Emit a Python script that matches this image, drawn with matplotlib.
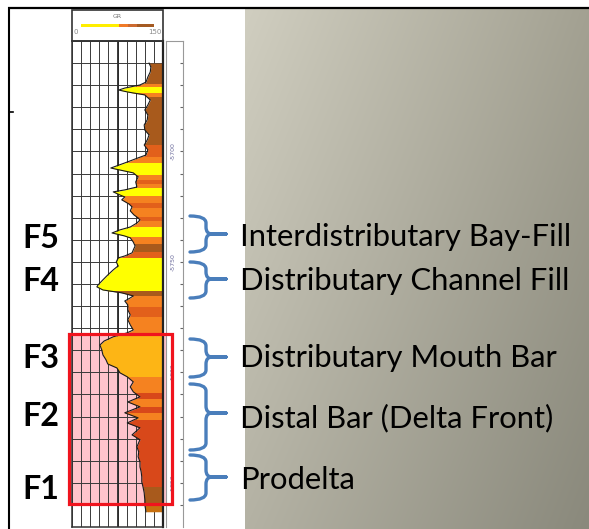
import numpy as np
import matplotlib
matplotlib.use("Agg")
import matplotlib.pyplot as plt
from matplotlib.patches import Rectangle, PathPatch
from matplotlib.path import Path

# ---------------- data ----------------
depth_ft = [
    5660.0, 5661.8, 5664.0, 5666.3, 5668.6, 5669.9, 5671.3, 5672.2, 5673.1, 5674.4,
    5676.7, 5679.0, 5681.2, 5683.5, 5685.7, 5688.0, 5690.3, 5692.5, 5694.8, 5697.1,
    5699.3, 5701.6, 5702.9, 5705.2, 5707.5, 5708.4, 5709.7, 5711.5, 5713.8, 5716.1,
    5717.4, 5718.3, 5719.7, 5720.6, 5721.9, 5723.8, 5725.1, 5726.9, 5728.7, 5730.1,
    5731.0, 5732.4, 5734.2, 5735.5, 5736.9, 5738.2, 5739.1, 5741.0, 5742.8, 5744.6,
    5745.9, 5747.3, 5748.2, 5750.0, 5751.8, 5753.6, 5755.9, 5758.1, 5760.4, 5761.3,
    5762.7, 5764.0, 5765.4, 5766.3, 5767.7, 5769.5, 5771.7, 5774.0, 5776.2, 5778.5,
    5780.8, 5782.1, 5783.9, 5785.8, 5787.6, 5789.8, 5792.1, 5794.3, 5796.2, 5798.0,
    5800.2, 5802.0, 5804.3, 5806.6, 5808.8, 5811.1, 5813.4, 5815.6, 5818.3, 5820.6,
    5822.9, 5825.1, 5828.3, 5830.5, 5833.7, 5836.0, 5838.2, 5840.5, 5842.8, 5845.0,
    5847.3, 5849.6, 5851.8, 5854.5, 5857.7, 5860.0, 5863.1,
]
gr_api = [
    127, 130, 129, 125, 122, 112, 87, 77, 92, 120,
    129, 125, 120, 125, 124, 119, 120, 127, 124, 119,
    125, 122, 109, 87, 64, 79, 101, 109, 105, 107,
    87, 68, 79, 87, 82, 94, 99, 96, 102, 109,
    112, 107, 96, 79, 66, 86, 96, 101, 104, 101,
    99, 87, 76, 73, 76, 68, 59, 51, 43, 41,
    51, 82, 101, 96, 87, 92, 92, 96, 92, 96,
    101, 91, 68, 53, 46, 49, 51, 56, 59, 74,
    79, 91, 101, 96, 101, 112, 92, 112, 87, 109,
    91, 112, 99, 112, 107, 110, 109, 112, 112, 114,
    115, 115, 117, 119, 120, 120, 122,
]

# colour bands of the GR fill (top depth of each band, colour class)
band_tops = [5660, 5669.5, 5671, 5673.5, 5675.3, 5697, 5702.5, 5705, 5710.6, 5713,
             5714.7, 5716.5, 5720, 5723.3, 5725.6, 5729.6, 5731.5, 5734, 5738.7, 5742,
             5745.5, 5748.2, 5763, 5765.4, 5770.4, 5775, 5782, 5802, 5809.3, 5812,
             5815.6, 5818.3, 5821.5, 5851.8, 5859]
band_classes = ["brown", "orange", "yellow", "orange", "brown", "dark", "orange", "yellow", "orange", "dark",
                "orange", "yellow", "orange", "dark", "orange", "dark", "orange", "yellow", "orange", "brown",
                "dark", "yellow", "brown", "orange", "dark", "orange", "gold", "orange", "red", "orange",
                "red", "orange", "red", "brown", "ochre"]
band_bottom = 5864

facies = ["F5", "F4", "F3", "F2", "F1"]
facies_names = ["Interdistributary Bay-Fill", "Distributary Channel Fill",
                "Distributary Mouth Bar", "Distal Bar (Delta Front)", "Prodelta"]

depth_labels = [5700, 5750, 5800, 5850]
depth_top, depth_base = 5650, 5870
gr_min, gr_max = 0, 150

# ---------------- styles ----------------
palette = {"yellow": "#ffff00", "gold": "#fdb515", "orange": "#f58220",
           "dark": "#e2601b", "red": "#d8481a", "brown": "#a85a1c", "ochre": "#c8700f"}

W, H = 589, 529
fig = plt.figure(figsize=(W / 100, H / 100), dpi=100)

def fr(x0, y0, x1, y1):
    return [x0 / W, 1 - y1 / H, (x1 - x0) / W, (y1 - y0) / H]

# background axes (pixel coords)
bg = fig.add_axes([0, 0, 1, 1], zorder=0)
bg.set_xlim(0, W); bg.set_ylim(H, 0); bg.axis("off")
tl = np.array([208, 206, 192]); tr = np.array([163, 161, 146])
bl = np.array([180, 178, 164]); br = np.array([138, 137, 124])
u = np.linspace(0, 1, 200)[None, :, None]
v = np.linspace(0, 1, 200)[:, None, None]
grad = (tl * (1 - u) * (1 - v) + tr * u * (1 - v) + bl * (1 - u) * v + br * u * v) / 255
bg.imshow(grad, extent=[245, W, H, 9.5], aspect="auto", interpolation="bilinear")
bg.set_xlim(0, W); bg.set_ylim(H, 0)
bg.plot([8, W], [7.5, 7.5], color="black", lw=1.6, solid_capstyle="butt")
bg.plot([9, 9], [7, H], color="black", lw=1.5, solid_capstyle="butt")
bg.plot([9, 13], [112, 112], color="black", lw=1.2)
# pink highlight behind the facies F1-F3 part of track
bg.add_patch(Rectangle((68, 333), 104, 171, facecolor="#ffc4cc", edgecolor="none"))

# header box
bg.add_patch(Rectangle((72, 10), 91, 31, facecolor="white", edgecolor="#333333", lw=1.2))
bg.text(117.5, 17, "GR", fontsize=4.5, color="#777777", ha="center", va="center")
for x0, x1, c in [(81, 119, "#ffee00"), (119, 128, "#f07a28"), (128, 137, "#cc6a30"), (137, 154, "#a45a22")]:
    bg.add_patch(Rectangle((x0, 23.5), x1 - x0, 3.5, facecolor=c, edgecolor="none"))
bg.text(74, 32, "0", fontsize=5, color="#888888", ha="left", va="center")
bg.text(162, 32, "150", fontsize=5, color="#888888", ha="right", va="center")

# ---------------- log track ----------------
ax = fig.add_axes(fr(72, 41, 163, 527), zorder=1)
ax.set_xlim(gr_min, gr_max)
ax.set_ylim(depth_base, depth_top)
ax.patch.set_alpha(0)
ax.set_xticks(np.arange(gr_min, gr_max + 1, 15))
ax.set_yticks(np.arange(depth_top, depth_base + 1, 10))
ax.tick_params(length=0, labelleft=False, labelbottom=False)
ax.grid(True, color="#3a3a3a", lw=0.7, zorder=1)
ax.axvline(75, color="#2a2a2a", lw=1.3, zorder=1)
ax.set_axisbelow(True)
for s in ax.spines.values():
    s.set_color("#333333"); s.set_linewidth(1.1)
ax.spines["right"].set_linewidth(1.6); ax.spines["right"].set_color("#222222")

d = np.array(depth_ft); g = np.array(gr_api)
edges = list(band_tops) + [band_bottom]
for i, cls in enumerate(band_classes):
    poly = ax.fill_betweenx(d, g, gr_max, color=palette[cls], lw=0, zorder=2)
    clip = Rectangle((gr_min, edges[i]), gr_max - gr_min, edges[i + 1] - edges[i],
                     transform=ax.transData)
    poly.set_clip_path(clip)
ax.plot(g, d, color="#1a1a1a", lw=0.8, zorder=3)

# depth column
dax = fig.add_axes(fr(166, 41, 183, 527), zorder=1)
dax.set_xlim(0, 1); dax.set_ylim(depth_base, depth_top)
dax.set_xticks([])
dax.yaxis.tick_right()
dax.set_yticks(np.arange(depth_top + 10, depth_base, 10))
dax.tick_params(axis="y", direction="in", length=2.5, width=0.8, color="#666666", labelright=False)
for s in dax.spines.values():
    s.set_color("#999999"); s.set_linewidth(0.8)
dax.spines["bottom"].set_visible(False)
for dl in depth_labels:
    dax.text(0.4, dl, f"-{dl}", rotation=90, fontsize=4.5, color="#6c6c9c",
             ha="center", va="center")

# ---------------- overlay ----------------
ov = fig.add_axes([0, 0, 1, 1], zorder=3)
ov.set_xlim(0, W); ov.set_ylim(H, 0); ov.axis("off")
ov.patch.set_alpha(0)
ov.add_patch(Rectangle((68.5, 333.5), 103, 170.5, facecolor="none", edgecolor="#f0141e", lw=2.3))

def brace(top, bot, mid, x0=190, xm=206, xt=226, ry=7):
    verts = [(x0, top), (xm, top), (xm, top + ry),
             (xm, mid - ry),
             (xm, mid), (xm + 6, mid),
             (xt, mid),
             (xm + 6, mid),
             (xm, mid), (xm, mid + ry),
             (xm, bot - ry),
             (xm, bot), (x0, bot)]
    codes = [Path.MOVETO, Path.CURVE3, Path.CURVE3,
             Path.LINETO,
             Path.CURVE3, Path.CURVE3,
             Path.LINETO,
             Path.LINETO,
             Path.CURVE3, Path.CURVE3,
             Path.LINETO,
             Path.CURVE3, Path.CURVE3]
    ov.add_patch(PathPatch(Path(verts, codes), facecolor="none", edgecolor="#4a7ebb",
                           lw=2.4, capstyle="round", joinstyle="round"))

brace_spans = [(216, 252, 234), (262, 298, 279), (339, 377, 357), (384, 450, 413), (455, 500, 477)]
for t, b, m in brace_spans:
    brace(t, b, m)

name_base = [246, 290, 367, 427, 489]
f_base = [248, 291, 368, 426, 499]

renderer = fig.canvas.get_renderer()
probe = ov.text(0, 0, "Distributary Channel Fill", fontsize=20, family="Lato")
w = probe.get_window_extent(renderer).width
probe.remove()
fs_name = 20 * 332 / w
probe = ov.text(0, 0, "F5", fontsize=20, family="Lato", weight="bold")
w = probe.get_window_extent(renderer).width
probe.remove()
fs_f = 20 * 37 / w

for lab, nm, yb, yf in zip(facies, facies_names, name_base, f_base):
    ov.text(240, yb, nm, fontsize=fs_name, family="Lato", color="black", ha="left", va="baseline")
    ov.text(22, yf, lab, fontsize=fs_f, family="Lato", weight="bold", color="black",
            ha="left", va="baseline")

fig.savefig("out.png", dpi=100)
